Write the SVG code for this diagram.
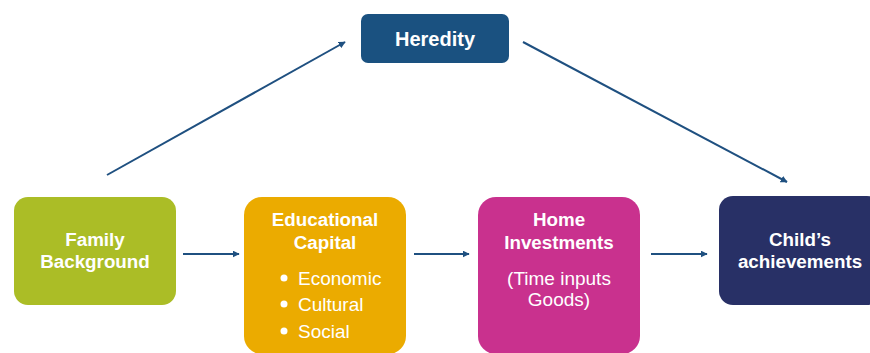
<svg xmlns="http://www.w3.org/2000/svg" width="870" height="353" viewBox="0 0 870 353">
<defs>
<marker id="ah" viewBox="0 0 10 10" refX="9" refY="5" markerWidth="3.5" markerHeight="3.5" orient="auto" markerUnits="strokeWidth">
<path d="M0,0 L10,5 L0,10 z" fill="#1f5080"/>
</marker>
<style>
.t{font-family:"Liberation Sans",Arial,sans-serif;fill:#ffffff;text-anchor:middle}
.b{font-weight:bold;font-size:18.8px}
.r{font-size:19px}
.c{stroke:#1f5080;stroke-width:2;fill:none;marker-end:url(#ah)}
</style>
</defs>
<rect width="870" height="353" fill="#ffffff"/>
<g id="connectors">
<line class="c" x1="107" y1="175" x2="345" y2="42"/>
<line class="c" x1="523" y1="42" x2="787" y2="182"/>
<line class="c" x1="183" y1="254" x2="239" y2="254"/>
<line class="c" x1="414" y1="254" x2="469" y2="254"/>
<line class="c" x1="651" y1="254" x2="707" y2="254"/>
</g>
<g id="heredity">
<rect x="361" y="14" width="148" height="49" rx="7" fill="#1a5180"/>
<text class="t" x="435" y="46" style="font-weight:bold;font-size:20px">Heredity</text>
</g>
<g id="family">
<rect x="14" y="197" width="162" height="108" rx="14" fill="#abbd26"/>
<text class="t b" x="95" y="246">Family</text>
<text class="t b" x="95" y="268">Background</text>
</g>
<g id="educational">
<rect x="244" y="197" width="162" height="157" rx="18" fill="#ebab00"/>
<text class="t b" x="325" y="226">Educational</text>
<text class="t b" x="325" y="249">Capital</text>
<circle cx="284" cy="278" r="3.5" fill="#ffffff"/>
<circle cx="284" cy="304" r="3.5" fill="#ffffff"/>
<circle cx="284" cy="331" r="3.5" fill="#ffffff"/>
<text class="t r" x="298" y="285" style="text-anchor:start">Economic</text>
<text class="t r" x="298" y="311" style="text-anchor:start">Cultural</text>
<text class="t r" x="298" y="338" style="text-anchor:start">Social</text>
</g>
<g id="home">
<rect x="478" y="197" width="162" height="157" rx="18" fill="#c9318e"/>
<text class="t b" x="559" y="226">Home</text>
<text class="t b" x="559" y="249">Investments</text>
<text class="t r" x="559" y="285">(Time inputs</text>
<text class="t r" x="559" y="306">Goods)</text>
</g>
<g id="child">
<rect x="719" y="196" width="162" height="109" rx="14" fill="#283066"/>
<text class="t b" x="800" y="246">Child’s</text>
<text class="t b" x="800" y="268">achievements</text>
</g>
</svg>
